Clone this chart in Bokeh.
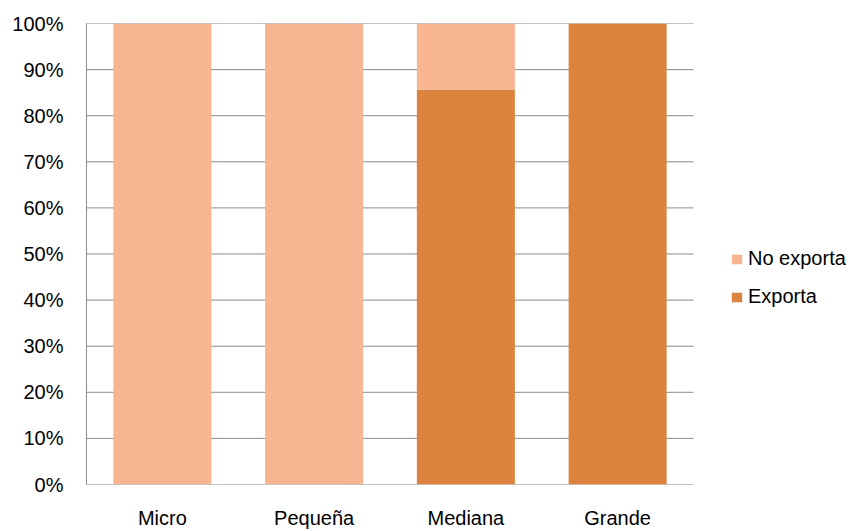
from bokeh.plotting import figure
from bokeh.models import ColumnDataSource, Range1d, FixedTicker, Legend, LegendItem, PrintfTickFormatter
from bokeh.embed import file_html
from bokeh.resources import INLINE

# Share of firms that export, by company size (percent)
categories = ["Micro", "Pequeña", "Mediana", "Grande"]
exporta = [0.0, 0.0, 85.7, 100.0]
no_exporta = [100.0, 100.0, 14.3, 0.0]
series = ["exporta", "no_exporta"]
series_labels = ["Exporta", "No exporta"]
colors = ["#DC843F", "#F8B592"]
y_ticks = list(range(0, 101, 10))

# category slots sit at 0.5, 1.5, ... on a numeric axis; the space past the
# last slot holds the legend
xpos = [i + 0.5 for i in range(len(categories))]
n = len(categories)
source = ColumnDataSource(dict(x=xpos, exporta=exporta, no_exporta=no_exporta))

FONT = "Liberation Sans"
FSIZE = "20px"
GRID = "#8C8C8C"

LEFT, RIGHT_EDGE, W = 86, 693, 855
x_end = n * (W - LEFT) / (RIGHT_EDGE - LEFT)

p = figure(
    width=W, height=531,
    x_range=Range1d(0, x_end),
    y_range=Range1d(0, 100),
    output_backend="svg", toolbar_location=None,
    min_border_left=LEFT, min_border_right=0,
    min_border_top=23, min_border_bottom=45,
)
p.outline_line_color = None
p.background_fill_color = "white"
p.border_fill_color = "white"

# horizontal gridlines (and the baseline) span only the category slots
p.segment(x0=[0] * len(y_ticks), x1=[n] * len(y_ticks), y0=y_ticks, y1=y_ticks,
          line_color=GRID, line_width=1)

renderers = p.vbar_stack(series, x="x", width=0.646, color=colors, source=source, line_color=None)

# axes
p.yaxis.ticker = FixedTicker(ticks=y_ticks)
p.yaxis.formatter = PrintfTickFormatter(format="%d%%")
p.xaxis.ticker = FixedTicker(ticks=xpos)
p.xaxis.major_label_overrides = {x: c for x, c in zip(xpos, categories)}
for ax in (p.xaxis[0], p.yaxis[0]):
    ax.axis_line_color = GRID
    ax.axis_line_width = 1
    ax.major_tick_line_color = None
    ax.minor_tick_line_color = None
    ax.major_tick_out = 0
    ax.major_tick_in = 0
    ax.minor_tick_out = 0
    ax.minor_tick_in = 0
    ax.major_label_text_font = FONT
    ax.major_label_text_font_size = FSIZE
    ax.major_label_text_color = "#000000"
p.xaxis.axis_line_color = None
p.yaxis.major_label_standoff = 23
p.xaxis.major_label_standoff = 22

p.xgrid.grid_line_color = None
p.ygrid.grid_line_color = None

legend = Legend(
    items=[LegendItem(label=series_labels[1], renderers=[renderers[1]]),
           LegendItem(label=series_labels[0], renderers=[renderers[0]])],
    location=(644, 176),
    orientation="vertical",
    glyph_width=13, glyph_height=12,
    label_height=20, spacing=15, label_standoff=5,
    padding=0, margin=0,
    border_line_color=None, background_fill_alpha=0,
    label_text_font=FONT, label_text_font_size=FSIZE,
    label_text_color="#000000",
)
p.add_layout(legend, "center")

open("out.html", "w").write(file_html(p, INLINE))
